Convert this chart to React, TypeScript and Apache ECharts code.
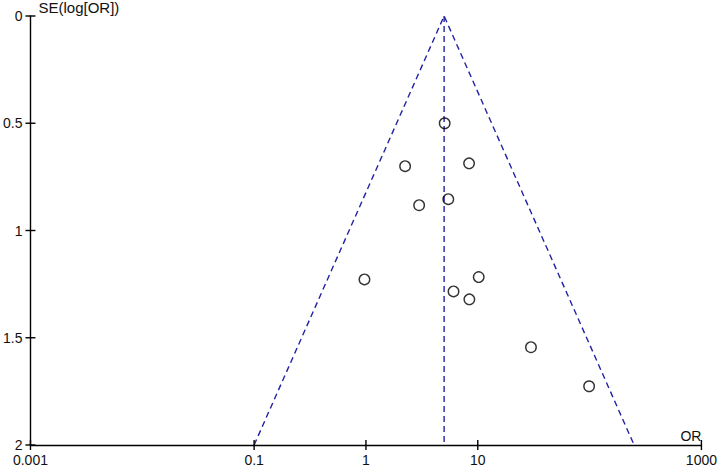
import React, { useEffect, useRef } from "react";
import * as echarts from "echarts";

// Study estimates: odds ratio and standard error of log(OR)
const studyOR = [5.06, 2.24, 8.36, 2.99, 5.45, 0.97, 6.07, 10.2, 8.41, 29.9, 99];
const studySE = [0.5, 0.7, 0.687, 0.882, 0.854, 1.228, 1.284, 1.217, 1.321, 1.544, 1.726];

// Funnel (pseudo 95% CI) outline and pooled estimate line
const funnelOR = [0.1, 5.0, 250];
const funnelSE = [2, 0, 2];
const pooledOR = [5.0, 5.0];
const pooledSE = [0, 2];

// Axis ticks shown
const xTickValues = [0.001, 0.1, 1, 10, 1000];
const yTicks = [0, 0.5, 1, 1.5, 2];

const FONT = "'Liberation Sans', Arial, sans-serif";
const TXT = "#111";
const X_MIN = 0.001;
const X_MAX = 1000;
const Y_MAX = 2;

export default function App() {
  const ref = useRef<HTMLDivElement>(null);
  useEffect(() => {
    if (!ref.current) return;
    const chart = echarts.init(ref.current, undefined, { renderer: "svg" });
    const blue = "#2222a2";
    const axisLineStyle = { color: "#000", width: 1.4 };
    chart.setOption({
      animation: false,
      backgroundColor: "#fff",
      grid: { left: 26.5, right: 15.5, top: 15, bottom: 23, containLabel: false },
      xAxis: {
        type: "log",
        logBase: 10,
        min: X_MIN,
        max: X_MAX,
        position: "bottom",
        splitLine: { show: false },
        minorTick: { show: false },
        name: "OR",
        nameLocation: "end",
        nameGap: 0,
        nameTextStyle: {
          fontFamily: FONT,
          fontSize: 14,
          color: TXT,
          align: "right",
          verticalAlign: "bottom",
          padding: [0, 0, 2, 0],
        },
        axisLine: { show: true, onZero: false, lineStyle: axisLineStyle },
        axisTick: { show: false },
        axisLabel: {
          show: true,
          margin: 8,
          fontFamily: FONT,
          fontSize: 14,
          color: TXT,
          customValues: xTickValues,
          formatter: (v: number) => String(v),
        },
      },
      yAxis: {
        type: "value",
        inverse: true,
        min: 0,
        max: Y_MAX,
        interval: 0.5,
        position: "left",
        splitLine: { show: false },
        name: "SE(log[OR])",
        nameLocation: "start",
        nameGap: 1,
        nameTextStyle: {
          fontFamily: FONT,
          fontSize: 15,
          color: TXT,
          align: "left",
          verticalAlign: "bottom",
          padding: [0, 0, 0, 8],
        },
        axisLine: { show: true, onZero: false, lineStyle: axisLineStyle },
        axisTick: { show: false },
        axisLabel: {
          margin: 8,
          fontFamily: FONT,
          fontSize: 14,
          color: TXT,
          formatter: (v: number) => (yTicks.includes(v) ? String(v) : ""),
        },
      },
      series: [
        {
          type: "line",
          data: funnelOR.map((v, i) => [v, funnelSE[i]]),
          symbol: "none",
          lineStyle: { color: blue, width: 1.4, type: [6, 4] },
          z: 2,
        },
        {
          type: "line",
          data: pooledOR.map((v, i) => [v, pooledSE[i]]),
          symbol: "none",
          lineStyle: { color: blue, width: 1.4, type: [6, 4] },
          z: 2,
        },
        {
          type: "scatter",
          data: studyOR.map((v, i) => [v, studySE[i]]),
          symbol: "circle",
          symbolSize: 10.5,
          itemStyle: { color: "rgba(0,0,0,0)", borderColor: "#000", borderWidth: 1.4 },
          z: 3,
        },
      ],
    });

    // Crossing tick marks, placed through the chart's own scales
    const T = 5;
    const tickStyle = { stroke: "#000", lineWidth: 1.4 };
    const ticks: any[] = [];
    xTickValues.forEach((v) => {
      const p = chart.convertToPixel({ gridIndex: 0 }, [v, Y_MAX]) as number[];
      ticks.push({
        type: "line",
        silent: true,
        z: 10,
        shape: { x1: p[0], y1: p[1] - T, x2: p[0], y2: p[1] + T },
        style: tickStyle,
      });
    });
    yTicks.forEach((v) => {
      const p = chart.convertToPixel({ gridIndex: 0 }, [X_MIN, v]) as number[];
      ticks.push({
        type: "line",
        silent: true,
        z: 10,
        shape: { x1: p[0] - T, y1: p[1], x2: p[0] + T, y2: p[1] },
        style: tickStyle,
      });
    });
    chart.setOption({ graphic: ticks });

    return () => chart.dispose();
  }, []);
  return (
    <div
      ref={ref}
      style={{ position: "fixed", left: 0, top: 0, width: 720, height: 468, background: "#fff" }}
    />
  );
}
